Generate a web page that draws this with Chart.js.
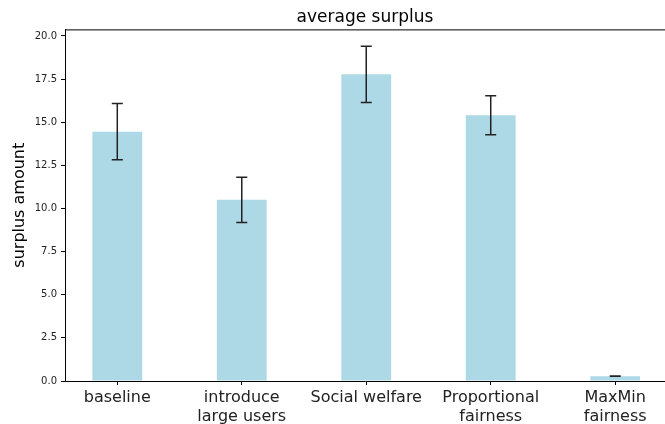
<!DOCTYPE html>
<html>
<head>
<meta charset="utf-8">
<script src="https://cdn.jsdelivr.net/npm/chart.js@4"></script>
<style>
  body { margin: 0; background: #fff; }
  #wrap { width: 665px; height: 424px; }
</style>
</head>
<body>
<div id="wrap"><canvas id="surplus"></canvas></div>
<script>
var categories = ['baseline', ['introduce', 'large users'], 'Social welfare', ['Proportional', 'fairness'], ['MaxMin', 'fairness']];
var surplus = [14.45, 10.5, 17.78, 15.4, 0.28];
var surplusErr = [1.63, 1.31, 1.63, 1.13, 0.01];
var yTicks = [0, 2.5, 5, 7.5, 10, 12.5, 15, 17.5, 20];

var font = "'DejaVu Sans', sans-serif";

// error bars + top spine
var errorBars = {
  id: 'errorBars',
  afterDatasetsDraw: function(chart) {
    var ctx = chart.ctx;
    var xs = chart.scales.x, ys = chart.scales.y;
    ctx.save();
    ctx.strokeStyle = '#222';
    ctx.lineWidth = 1.5;
    for (var i = 0; i < surplus.length; i++) {
      var x = xs.getPixelForValue(i);
      var hi = ys.getPixelForValue(surplus[i] + surplusErr[i]);
      var lo = ys.getPixelForValue(surplus[i] - surplusErr[i]);
      ctx.beginPath();
      ctx.moveTo(x, hi); ctx.lineTo(x, lo);
      ctx.moveTo(x - 5.5, hi); ctx.lineTo(x + 5.5, hi);
      ctx.moveTo(x - 5.5, lo); ctx.lineTo(x + 5.5, lo);
      ctx.stroke();
    }
    var a = chart.chartArea;
    ctx.strokeStyle = '#000';
    ctx.lineWidth = 1;
    ctx.beginPath();
    ctx.moveTo(a.left, a.top + 0.5);
    ctx.lineTo(a.right, a.top + 0.5);
    ctx.stroke();
    ctx.restore();
  }
};

var chartdata = {
  datasets: [{
    label: 'average surplus',
    data: surplus.map(function(v, i) { return { x: i, y: v }; }),
    backgroundColor: '#ADD8E6',
    borderWidth: 0,
    barPercentage: 0.4,
    categoryPercentage: 1.0
  }]
};

var surplusChart = new Chart(document.getElementById('surplus'), {
  type: 'bar',
  data: chartdata,
  plugins: [errorBars],
  options: {
    responsive: true,
    maintainAspectRatio: false,
    animation: false,
    layout: { padding: 0 },
    plugins: {
      legend: { display: false },
      tooltip: { enabled: false },
      title: {
        display: true,
        text: 'average surplus',
        fullSize: false,
        color: '#000',
        font: { family: font, size: 17, weight: 'normal' },
        padding: { top: 7, bottom: 2 }
      }
    },
    scales: {
      x: {
        type: 'linear',
        offset: false,
        min: -0.42,
        max: 4.4,
        afterBuildTicks: function(scale) {
          scale.ticks = categories.map(function(c, i) { return { value: i }; });
        },
        afterFit: function(scale) { scale.height = 43; },
        ticks: {
          autoSkip: false,
          maxRotation: 0,
          color: '#222',
          padding: 4,
          font: { family: font, size: 16, lineHeight: 1.15 },
          callback: function(v) { return categories[v]; }
        },
        grid: { offset: false, drawOnChartArea: false, tickLength: 4, tickColor: '#000' },
        border: { color: '#000', width: 1 }
      },
      y: {
        min: 0,
        max: 20.38,
        afterBuildTicks: function(scale) {
          scale.ticks = yTicks.map(function(t) { return { value: t }; });
        },
        afterFit: function(scale) { scale.width = 65; },
        ticks: {
          color: '#222',
          padding: 4,
          font: { family: font, size: 10 },
          callback: function(v) { return v.toFixed(1); }
        },
        grid: { drawOnChartArea: false, tickLength: 4, tickColor: '#000' },
        border: { color: '#000', width: 1 },
        title: {
          display: true,
          text: 'surplus amount',
          color: '#000',
          font: { family: font, size: 16 },
          padding: { top: 10, bottom: 0 }
        }
      }
    }
  }
});
</script>
</body>
</html>
